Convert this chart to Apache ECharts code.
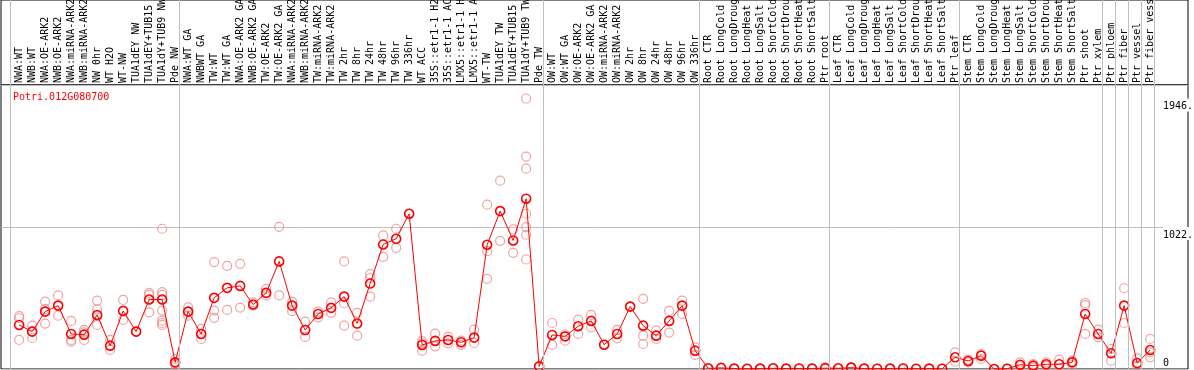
<!DOCTYPE html>
<html>
<head>
<meta charset="utf-8">
<script src="https://cdn.jsdelivr.net/npm/echarts@6/dist/echarts.min.js"></script>
<style>
html,body{margin:0;padding:0;background:#fff;}
#chart{width:1194px;height:370px;}
</style>
</head>
<body>
<div id="chart"></div>
<script>
const geneName = 'Potri.012G080700';
const categories = [
 'NWA:WT','NWB:WT','NWA:OE-ARK2','NWB:OE-ARK2','NWA:miRNA-ARK2','NWB:miRNA-ARK2','NW 0hr','WT H2O','WT-NW','TUA1dEY NW','TUA1dEY+TUB15','TUA1dY+TUB9 NW','Pde NW',
 'NWA:WT GA','NWBWT GA','TW:WT','TW:WT GA','NWA:OE-ARK2 GA','NWB:OE-ARK2 GA','TW:OE-ARK2','TW:OE-ARK2 GA','NWA:miRNA-ARK2','NWB:miRNA-ARK2','TW:miRNA-ARK2','TW:miRNA-ARK2','TW 2hr','TW 8hr','TW 24hr','TW 48hr','TW 96hr','TW 336hr','WT ACC','35S::etr1-1 H2','35S::etr1-1 AC','LMX5::etr1-1 H','LMX5::etr1-1 A','WT-TW','TUA1dEY TW','TUA1dEY+TUB15','TUA1dY+TUB9 TW','Pde TW',
 'OW:WT','OW:WT GA','OW:OE-ARK2','OW:OE-ARK2 GA','OW:miRNA-ARK2','OW:miRNA-ARK2','OW 2hr','OW 8hr','OW 24hr','OW 48hr','OW 96hr','OW 336hr',
 'Root CTR','Root LongCold','Root LongDroug','Root LongHeat','Root LongSalt','Root ShortCold','Root ShortDrou','Root ShortHeat','Root ShortSalt','Ptr root',
 'Leaf CTR','Leaf LongCold','Leaf LongDroug','Leaf LongHeat','Leaf LongSalt','Leaf ShortCold','Leaf ShortDrou','Leaf ShortHeat','Leaf ShortSalt','Ptr leaf',
 'Stem CTR','Stem LongCold','Stem LongDroug','Stem LongHeat','Stem LongSalt','Stem ShortCold','Stem ShortDrou','Stem ShortHeat','Stem ShortSalt','Ptr shoot','Ptr xylem',
 'Ptr phloem','Ptr fiber','Ptr vessel','Ptr fiber vess'
];
const means = [
 317,269,413,456,252,247,389,168,418,269,500,500,48,
 413,252,512,584,598,464,548,774,456,281,396,440,521,327,615,896,937,1117,173,202,209,192,226,894,1136,925,1225,19,
 245,235,308,346,175,252,449,312,240,346,456,132,
 5,8,3,2,3,5,3,4,3,6,
 5,10,3,2,3,4,2,3,2,84,
 58,96,0,2,31,24,34,34,48,396,252,
 113,456,43,137
];
const replicates = [
 [380,365,209],[312,270,223],[485,432,327],[529,456,384],[346,209,197],[281,264,209],[492,428,380,317],[209,137],[497,353],[269],[548,533,408],[1009,553,533,420,348,331,317],[72,40,29],
 [444,413,384],[288,252,216],[769,420,368],[742,425],[757,442],[480,456],[577,529],[1023,529],[485,416],[341,231],[413,372],[480,404],[774,473,312],[404,240],[682,653,521],[961,807],[1009,872],[1117],[200,185,132],[255,163],[231,185],[204,173],[283,187],[1182,848,649],[1355,922],[1004,836],[1946,1528,1441,1117,1021,966,788],[19],
 [331,173],[250,204],[355,252],[389,300],[175],[281,221],[449],[505,240,180],[276,216],[418,262],[492,396],[156,101],
 [5],[8],[3],[2],[3],[5],[3],[4],[3],[10,3],
 [5],[12,8],[3],[2],[3],[4],[2],[3],[2],[120,53],
 [67,48],[108,72],[0],[2],[48,19],[36,12],[48,22],[67,5],[58,29],[475,460,252],[283,228],
 [144,60],[581,331],[77,24],[216,120,84]
];
const groupStarts = [0,13,41,53,63,73,84,85,86,87,88];
const yMaxValue = 1946;
const yTickValues = [1021.65, 1946];
const yTickLabels = ['1022.', '1946.'];
const yZeroLabel = '0';

const FONT = 'DejaVu Sans Mono';
const yTop = yMaxValue * 1.05;
const xMin = -1.396, xMax = 89.91;
const sepValues = groupStarts.map(s => s - 0.65);
const sepMark = {
  silent: true, symbol: 'none', animation: false,
  label: {show: false},
  lineStyle: {color: '#c0c0c0', type: 'solid', width: 1},
  data: sepValues.map(v => ({xAxis: v}))
};
const repData = [];
replicates.forEach((arr, i) => arr.forEach(v => repData.push([i, v])));

const chart = echarts.init(document.getElementById('chart'), null, {renderer: 'canvas'});
chart.setOption({
  animation: false,
  backgroundColor: '#fff',
  title: {
    text: geneName, left: 8, top: 87,
    textStyle: {fontFamily: FONT, fontSize: 10, fontWeight: 'normal', color: '#ff0000'}
  },
  grid: [
    {left: 1, right: 6, top: 0, height: 85, show: true, borderColor: '#000', borderWidth: 1, backgroundColor: 'transparent', outerBoundsMode: 'none', containLabel: false},
    {left: 1, right: 6, top: 85, bottom: 1, show: true, borderColor: '#000', borderWidth: 1, backgroundColor: 'transparent', outerBoundsMode: 'none', containLabel: false}
  ],
  xAxis: [
    {gridIndex: 0, type: 'value', min: xMin, max: xMax, show: false},
    {gridIndex: 1, type: 'value', min: xMin, max: xMax, position: 'top',
     axisLine: {show: false}, axisTick: {show: false}, splitLine: {show: false},
     axisLabel: {
       customValues: categories.map((c, i) => i),
       rotate: 90, margin: 2, fontFamily: FONT, fontSize: 10, color: '#000',
       formatter: v => categories[Math.round(v)] || ''
     }}
  ],
  yAxis: [
    {gridIndex: 0, type: 'value', min: 0, max: 1, show: false},
    {gridIndex: 1, type: 'value', min: 0, max: yTop, interval: yTop / 2, position: 'right',
     axisLine: {show: false}, axisTick: {show: false},
     splitLine: {show: true, lineStyle: {color: '#c0c0c0', width: 1}},
     axisLabel: {
       customValues: yTickValues, inside: true, align: 'left', verticalAlign: 'top', margin: 25,
       padding: [3, 0, 0, 0],
       fontFamily: FONT, fontSize: 10, color: '#000', backgroundColor: '#fff',
       formatter: v => yTickLabels[yTickValues.indexOf(v)]
     }},
    {gridIndex: 1, type: 'value', min: 0, max: yTop, position: 'right',
     axisLine: {show: false}, axisTick: {show: false}, splitLine: {show: false},
     axisLabel: {
       customValues: [0], inside: true, align: 'left', verticalAlign: 'bottom', margin: 25,
       padding: [0, 0, 1, 0],
       fontFamily: FONT, fontSize: 10, color: '#000',
       formatter: () => yZeroLabel
     }}
  ],
  series: [
    {type: 'line', xAxisIndex: 0, yAxisIndex: 0, data: [], markLine: sepMark},
    {type: 'scatter', xAxisIndex: 1, yAxisIndex: 1, data: repData, clip: false,
     symbol: 'circle', symbolSize: 9, z: 2,
     itemStyle: {color: 'transparent', borderColor: '#ec8c8c', borderWidth: 1.2},
     markLine: sepMark},
    {type: 'line', xAxisIndex: 1, yAxisIndex: 1, data: means.map((m, i) => [i, m]), clip: false,
     symbol: 'circle', symbolSize: 9, showAllSymbol: true, z: 3,
     lineStyle: {color: '#ff0000', width: 1},
     itemStyle: {color: 'transparent', borderColor: '#ff0000', borderWidth: 1.6}}
  ]
});
</script>
</body>
</html>
